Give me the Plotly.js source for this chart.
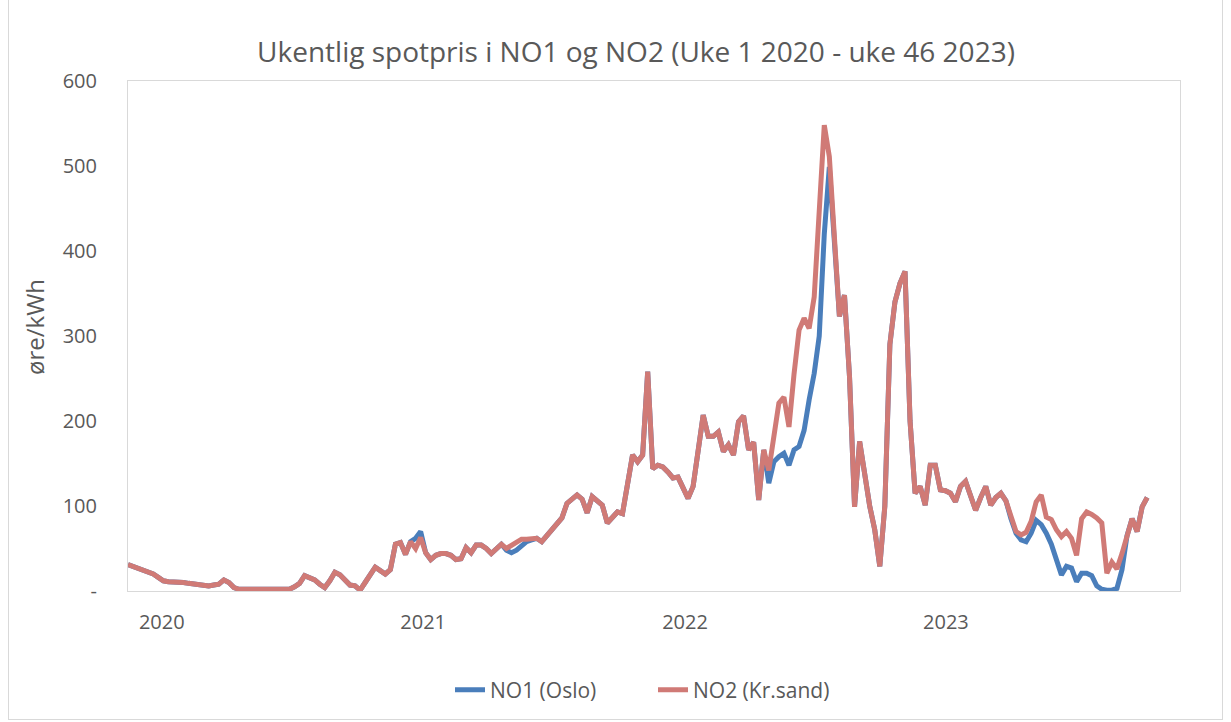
<!DOCTYPE html>
<html>
<head>
<meta charset="utf-8">
<script src="https://cdn.plot.ly/plotly-3.0.1.min.js"></script>
<style>
html,body{margin:0;padding:0;background:#fff;}
#wrap{position:relative;width:1231px;height:722px;overflow:hidden;}
#chart{position:absolute;left:0;top:0;width:1231px;height:722px;}
#frame{position:absolute;left:8px;top:-1px;width:1213px;height:719px;border:1px solid #d9d9d9;pointer-events:none;}
</style>
</head>
<body>
<div id="wrap"><div id="chart"></div><div id="frame"></div></div>
<script>
// Week index 0 = uke 1 2020 ... 202 = uke 46 2023
const chartTitle = "Ukentlig spotpris i NO1 og NO2 (Uke 1 2020 - uke 46 2023)";
const yTitle = "øre/kWh";
const seriesNames = ["NO1 (Oslo)", "NO2 (Kr.sand)"];
const yearLabels = ["2020", "2021", "2022", "2023"];
const yearLabelPos = [6.7, 58.5, 110.4, 162.1];
const yTickVals = [0, 100, 200, 300, 400, 500, 600];
const yTickText = ["-", "100", "200", "300", "400", "500", "600"];

const no2 = [
  31, 29, 27, 24, 22, 20, 16, 12, 11, 11,
  11, 10, 9, 8, 7, 6, 6, 7, 8, 13,
  10, 4, 2, 2, 2, 1, 1, 1, 1, 1,
  1, 1, 2, 5, 9, 18, 15, 13, 8, 4,
  12, 22, 19, 13, 7, 6, 1, 10, 20, 28,
  24, 20, 25, 55, 57, 43, 58, 50, 63, 45,
  37, 42, 44, 44, 42, 37, 38, 51, 45, 54,
  54, 50, 44, 50, 55, 50, 54, 58, 61, 61,
  61, 62, 58, 65, 72, 77, 86, 103, 108, 113,
  108, 92, 111, 106, 101, 80, 86, 93, 91, 128,
  160, 152, 160, 258, 144, 148, 146, 140, 133, 134,
  120, 109, 123, 165, 207, 182, 182, 187, 164, 172,
  160, 199, 206, 166, 175, 107, 166, 142, 185, 221,
  228, 193, 255, 307, 321, 309, 346, 448, 548, 511,
  420, 323, 348, 252, 99, 176, 138, 100, 72, 29,
  100, 290, 340, 362, 376, 200, 115, 123, 101, 148,
  148, 119, 118, 115, 105, 123, 129, 110, 95, 110,
  123, 101, 110, 115, 106, 88, 70, 66, 69, 82,
  105, 113, 87, 84, 72, 64, 70, 62, 42, 85,
  93, 90, 86, 80, 21, 34, 26, 44, 65, 85,
  70, 99, 110
];

const no1 = [
  31, 29, 27, 24, 22, 20, 16, 12, 11, 11,
  11, 10, 9, 8, 7, 6, 6, 7, 8, 13,
  10, 4, 2, 2, 2, 1, 1, 1, 1, 1,
  1, 1, 2, 5, 9, 18, 15, 13, 8, 4,
  12, 22, 19, 13, 7, 6, 1, 10, 20, 28,
  24, 20, 25, 55, 57, 43, 58, 62, 70, 45,
  37, 42, 44, 44, 42, 37, 38, 51, 45, 54,
  54, 50, 44, 50, 55, 48, 45, 48, 53, 58,
  60, 62, 58, 65, 72, 77, 86, 103, 108, 113,
  108, 92, 111, 106, 101, 80, 86, 93, 91, 128,
  160, 152, 160, 258, 144, 148, 146, 140, 133, 134,
  120, 109, 123, 165, 207, 182, 182, 187, 164, 172,
  160, 199, 206, 166, 175, 107, 166, 127, 152, 158,
  162, 148, 166, 170, 189, 225, 256, 300, 420, 499,
  420, 323, 348, 252, 99, 176, 138, 100, 72, 29,
  100, 290, 340, 362, 376, 200, 115, 123, 101, 148,
  148, 119, 118, 115, 105, 123, 129, 110, 95, 110,
  123, 101, 110, 115, 106, 85, 68, 60, 58, 68,
  83, 78, 68, 55, 35, 19, 29, 27, 11, 21,
  21, 18, 6, 2, 1, 1, 3, 25, 65, 85,
  70, 99, 110
];

const weeks = no2.map((_, i) => i);
const font = "'Open Sans', 'Liberation Sans', sans-serif";
const grey = "#595959";

const traces = [
  {x: weeks, y: no1, name: seriesNames[0], type: "scatter", mode: "lines",
   line: {color: "#4A7EBB", width: 5, shape: "linear"}},
  {x: weeks, y: no2, name: seriesNames[1], type: "scatter", mode: "lines",
   line: {color: "#D07A76", width: 5, shape: "linear"}}
];

const layout = {
  width: 1231, height: 722,
  margin: {l: 128, r: 51, t: 81, b: 131},
  paper_bgcolor: "rgba(0,0,0,0)", plot_bgcolor: "#fff",
  font: {family: font, color: grey, size: 20},
  title: {text: chartTitle, x: 636/1231, xanchor: "center", y: 1 - 52/722, yanchor: "middle",
          font: {family: font, size: 28, color: grey}},
  xaxis: {range: [0, 208.5], tickvals: yearLabelPos, ticktext: yearLabels,
          showgrid: false, zeroline: false, showline: true, mirror: true,
          linecolor: "#d9d9d9", linewidth: 1, ticks: "", ticklabelstandoff: 13,
          tickfont: {size: 20, color: grey}},
  yaxis: {range: [0, 600], tickvals: yTickVals, ticktext: yTickText,
          showgrid: false, zeroline: false, showline: true, mirror: true,
          linecolor: "#d9d9d9", linewidth: 1, ticks: "", ticklabelstandoff: 26,
          tickfont: {size: 20, color: grey}},
  annotations: [{text: yTitle, xref: "paper", yref: "paper", x: (34 - 128) / 1052, y: (591 - 327) / 510,
                 xanchor: "center", yanchor: "middle", textangle: -90, showarrow: false,
                 font: {family: font, size: 24, color: grey}}],
  legend: {orientation: "h", xref: "container", yref: "container", x: 450/1231, y: 1 - 690/722,
           xanchor: "left", yanchor: "middle", font: {size: 21, color: grey},
           entrywidth: 158, entrywidthmode: "pixels",
           bgcolor: "rgba(0,0,0,0)"},
  showlegend: true,
  hovermode: false
};

Plotly.newPlot("chart", traces, layout, {displayModeBar: false, staticPlot: true});
</script>
</body>
</html>
